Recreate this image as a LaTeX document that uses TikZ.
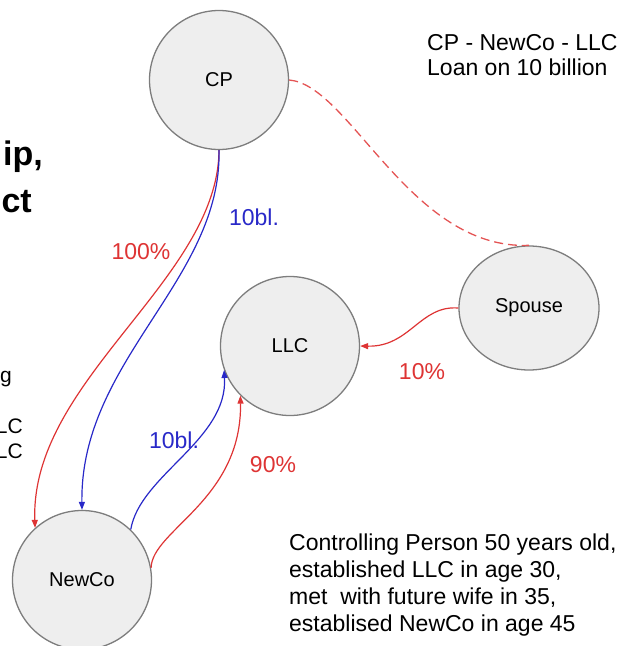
\documentclass[tikz,border=0pt]{standalone}
\usepackage{fontspec}
\setmainfont{Liberation Sans}
\usetikzlibrary{arrows.meta, shapes.geometric}
\definecolor{edgered}{RGB}{222,52,52}
\definecolor{dashred}{RGB}{228,84,84}
\definecolor{edgeblue}{RGB}{40,40,200}
\definecolor{bubblefill}{RGB}{238,238,238}
\definecolor{bubbleline}{RGB}{125,125,125}

\begin{document}
\begin{tikzpicture}[x=1pt, y=-1pt,
  party/.style={draw=bubbleline, fill=bubblefill, line width=1.3pt, circle, minimum size=139pt, inner sep=0pt, font=\fontsize{20}{24}\selectfont},
  spousebox/.style={party, ellipse, minimum width=140pt, minimum height=124pt},
  note/.style={align=left, anchor=north west, inner sep=0pt},
  lbl/.style={font=\fontsize{23}{27}\selectfont, inner sep=0pt},
  own/.style={-{Triangle[length=8pt,width=6pt]}, edgered, line width=1.2pt},
  loan/.style={-{Triangle[length=8pt,width=6pt]}, edgeblue, line width=1.2pt},
  tie/.style={dashred, line width=1.3pt, dash pattern=on 9pt off 5pt}
]
\useasboundingbox (0,0) rectangle (624,646);
\clip (0,0) rectangle (624,646);

% parties
\node[party] (cp) at (219,80) {CP};
\node[party] (llc) at (290,346) {LLC};
\node[party] (newco) at (82,580) {NewCo};
\node[spousebox] (spouse) at (529,308) {Spouse};

% ownership and loans
\draw[own] (cp.south) .. controls (218,280) and (30,380) .. (newco.132);
\draw[loan] (cp.south) .. controls (222,280) and (80,360) .. (newco.north);
\draw[loan] (newco.46) .. controls (140,475) and (228,440) .. (llc.200);
\draw[own] (newco.10) .. controls (152,530) and (242,500) .. (llc.225);
\draw[own] (spouse.west) .. controls (420,305) and (410,347) .. (llc.east);
\draw[tie] (cp.east) .. controls (350,85) and (410,250) .. (spouse.north);

\node[lbl, text=edgered] (share1) at (141,252) {100\%};
\node[lbl, text=edgeblue] (loan1) at (254,217) {10bl.};
\node[lbl, text=edgeblue] (loan2) at (174,440) {10bl.};
\node[lbl, text=edgered] (share2) at (273,465) {90\%};
\node[lbl, text=edgered] (share3) at (422,372) {10\%};

% notes
\node[note, font=\fontsize{23}{25}\selectfont] (deal) at (427,34) {CP - NewCo - LLC\\Loan on 10 billion};
\node[note, font=\fontsize{23}{27}\selectfont] (story) at (289,534) {Controlling Person 50 years old,\\established LLC in age 30,\\met\ \ with future wife in 35,\\establised NewCo in age 45};

% cut-off text at the left edge
\node[anchor=base east, inner sep=0pt, font=\bfseries\fontsize{34}{40}\selectfont] (head1) at (43,165) {ip,};
\node[anchor=base east, inner sep=0pt, font=\bfseries\fontsize{34}{40}\selectfont] (head2) at (32,212) {ct};
\node[anchor=base east, inner sep=0pt, font=\fontsize{21}{25}\selectfont] (side1) at (12,382) {g};
\node[anchor=base east, inner sep=0pt, font=\fontsize{21}{25}\selectfont] (side2) at (23,433) {LC};
\node[anchor=base east, inner sep=0pt, font=\fontsize{21}{25}\selectfont] (side3) at (23,458) {LC};
\end{tikzpicture}
\end{document}
